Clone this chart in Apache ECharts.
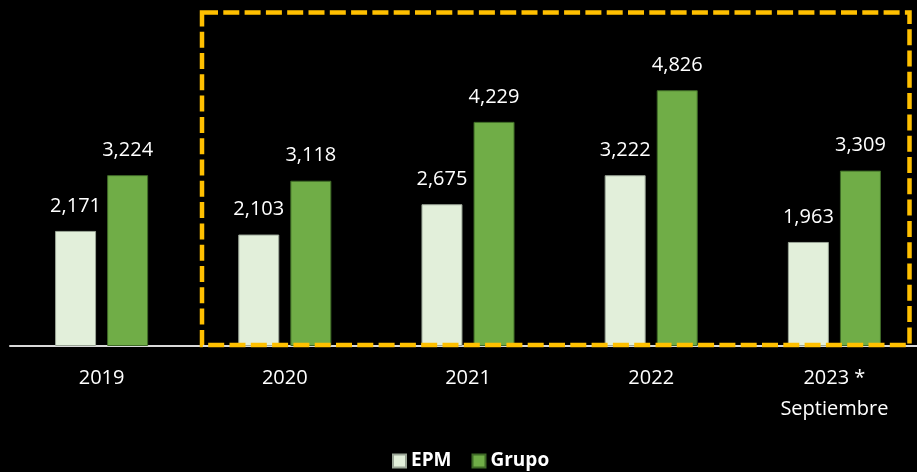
<!DOCTYPE html>
<html><head><meta charset="utf-8">
<script src="https://cdn.jsdelivr.net/npm/echarts@6/dist/echarts.min.js"></script>
<style>html,body{margin:0;padding:0;background:#000;}#c{width:917px;height:472px;}</style>
</head><body><div id="c"></div>
<script>
const categories = ['2019', '2020', '2021', '2022', '2023 *\nSeptiembre'];
const epm = [2171, 2103, 2675, 3222, 1963];
const grupo = [3224, 3118, 4229, 4826, 3309];
const seriesNames = ['EPM', 'Grupo'];

const chart = echarts.init(document.getElementById('c'));
const font = 'Open Sans';
const lbl = {show: true, position: 'top', distance: 15, color: '#fff', fontSize: 20, fontFamily: font,
  formatter: p => p.value.toLocaleString('en-US')};
chart.setOption({
  backgroundColor: '#000',
  animation: false,
  grid: {left: 10, width: 916, top: 28, bottom: 126, containLabel: false, outerBoundsMode: 'none'},
  legend: {
    left: 392, top: 450, padding: 0, itemWidth: 13, itemHeight: 13, itemGap: 20, icon: 'rect',
    textStyle: {color: '#fff', fontSize: 19, lineHeight: 22, fontWeight: 'bold', fontFamily: font},
    data: seriesNames
  },
  xAxis: {
    type: 'category', data: categories,
    axisLine: {lineStyle: {color: '#d9d9d9', width: 2}},
    axisTick: {show: false},
    axisLabel: {color: '#fff', fontSize: 20, fontFamily: font, margin: 17, lineHeight: 31, interval: 0}
  },
  yAxis: {type: 'value', min: 0, max: 6000, show: false, splitLine: {show: false}},
  series: [
    {name: seriesNames[0], type: 'bar', data: epm, barWidth: 41, barGap: '27%',
      itemStyle: {color: '#E2EFDA', borderColor: '#9aa596', borderWidth: 1}, label: lbl},
    {name: seriesNames[1], type: 'bar', data: grupo, barWidth: 41,
      itemStyle: {color: '#70AD47', borderColor: '#3f6a27', borderWidth: 1}, label: lbl}
  ],
  graphic: [{
    type: 'rect', z: 100,
    shape: {x: 202, y: 12.5, width: 707.5, height: 332.5},
    style: {fill: null, stroke: '#FFC000', lineWidth: 4.5, lineDash: [16, 5.3]}
  }]
});
</script></body></html>
